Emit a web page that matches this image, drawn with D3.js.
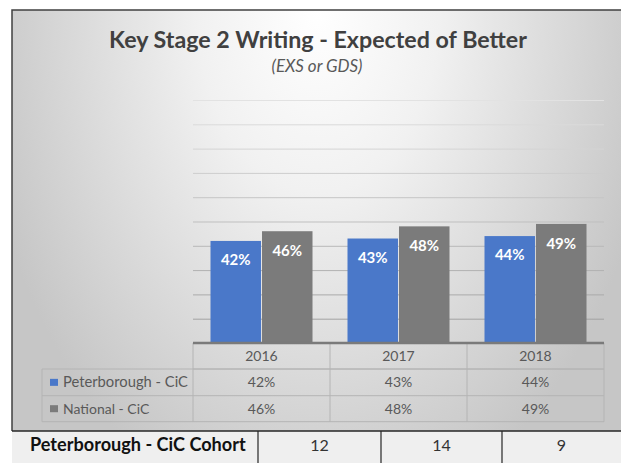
<!DOCTYPE html>
<html>
<head>
<meta charset="utf-8">
<script src="https://cdn.jsdelivr.net/npm/d3@7"></script>
<style>
  body { margin: 0; background: #fff; }
  text { font-family: Lato, "Open Sans", sans-serif; }
</style>
</head>
<body>
<div id="chart"></div>
<script>
// data
const years = ["2016", "2017", "2018"];
const seriesNames = ["Peterborough - CiC", "National - CiC"];
const peterborough = [0.42, 0.43, 0.44];
const national = [0.46, 0.48, 0.49];
const cohortLabel = "Peterborough - CiC Cohort";
const cohort = [12, 14, 9];
const yTicks = [0, 0.1, 0.2, 0.3, 0.4, 0.5, 0.6, 0.7, 0.8, 0.9, 1.0];

const colors = ["#4a78c9", "#7b7b7b"];
const W = 621, H = 463;

const svg = d3.select("#chart").append("svg")
    .attr("width", W)
    .attr("height", H);

// background gradient of the chart frame
const defs = svg.append("defs");
const grad = defs.append("radialGradient")
    .attr("id", "bg")
    .attr("gradientUnits", "userSpaceOnUse")
    .attr("cx", 0).attr("cy", 0).attr("r", 1)
    .attr("gradientTransform", "translate(318,10) scale(345,520)");
grad.append("stop").attr("offset", 0).attr("stop-color", "#ffffff");
grad.append("stop").attr("offset", 0.35).attr("stop-color", "#f1f1f1");
grad.append("stop").attr("offset", 1).attr("stop-color", "#c6c6c6");

const frame = {left: 12, top: 10, right: W, bottom: 431};
svg.append("rect")
    .attr("x", frame.left).attr("y", frame.top)
    .attr("width", frame.right - frame.left)
    .attr("height", frame.bottom - frame.top)
    .attr("fill", "url(#bg)");

// frame border: left and top only
svg.append("path")
    .attr("d", `M${frame.left},${frame.bottom}V${frame.top}H${frame.right}`)
    .attr("fill", "none")
    .attr("stroke", "#404040")
    .attr("stroke-width", 1.5);

function fit(sel, w) {
    const cur = sel.node().getComputedTextLength();
    const fs = parseFloat(sel.attr("font-size"));
    sel.attr("font-size", (fs * w / cur).toFixed(2));
}

// titles
svg.append("text")
    .attr("x", 318).attr("y", 48)
    .attr("text-anchor", "middle")
    .attr("font-size", 22)
    .attr("font-weight", "bold")
    .attr("fill", "#404040")
    .text("Key Stage 2 Writing - Expected of Better")
    .call(fit, 418);

svg.append("text")
    .attr("x", 317).attr("y", 72)
    .attr("text-anchor", "middle")
    .attr("font-size", 14)
    .attr("font-style", "italic")
    .attr("fill", "#595959")
    .text("(EXS or GDS)")
    .call(fit, 91);

// plot area
const plot = {left: 193, right: 604, top: 100, bottom: 343};

const x0 = d3.scaleBand().domain(years).range([plot.left, plot.right]);
const x1 = d3.scaleBand().domain(seriesNames)
    .range([17.5, x0.bandwidth() - 17.5])
    .paddingInner(0.02);
const y = d3.scaleLinear().domain([0, 1]).range([plot.bottom, plot.top]);

const gridColor = d3.scaleLinear().domain([0, 1]).range(["#9c9c9c", "#e2e2e2"]);

const grid = svg.append("g")
    .attr("transform", `translate(${plot.left},0)`)
    .call(d3.axisLeft(y).tickValues(yTicks).tickSize(-(plot.right - plot.left)).tickFormat(""));
grid.select(".domain").remove();
grid.selectAll(".tick line")
    .attr("stroke", d => gridColor(d))
    .attr("stroke-width", 1);
grid.selectAll(".tick").filter(d => d === 0).remove();

// bars
const rows = years.map((yr, i) => ({year: yr, values: [peterborough[i], national[i]]}));

const groups = svg.append("g").selectAll("g")
    .data(rows)
    .join("g")
    .attr("transform", d => `translate(${x0(d.year)},0)`);

groups.selectAll("rect")
    .data(d => d.values.map((v, j) => ({name: seriesNames[j], value: v, idx: j})))
    .join("rect")
    .attr("x", d => x1(d.name))
    .attr("y", d => y(d.value))
    .attr("width", x1.bandwidth())
    .attr("height", d => y(0) - y(d.value))
    .attr("fill", d => colors[d.idx]);

groups.selectAll("text")
    .data(d => d.values.map((v, j) => ({name: seriesNames[j], value: v, idx: j})))
    .join("text")
    .attr("x", d => x1(d.name) + x1.bandwidth() / 2)
    .attr("y", d => y(d.value) + (d.idx === 0 ? 24 : 25))
    .attr("text-anchor", "middle")
    .attr("font-size", 15)
    .attr("font-weight", "bold")
    .attr("fill", "#fff")
    .text(d => d3.format(".0%")(d.value));

// data table
const tbl = {left: 42, header: 343, row1: 369, row2: 395.7, bottom: 421.7};
const lineCol = "#b4b4b4";
const tg = svg.append("g");

// horizontal lines
tg.append("line").attr("x1", plot.left).attr("x2", plot.right)
    .attr("y1", tbl.row1).attr("y2", tbl.row1);
[tbl.row1, tbl.row2, tbl.bottom].forEach((yy, i) => {
    tg.append("line").attr("x1", tbl.left).attr("x2", plot.right)
        .attr("y1", yy).attr("y2", yy);
});
// vertical lines
tg.append("line").attr("x1", tbl.left).attr("x2", tbl.left)
    .attr("y1", tbl.row1).attr("y2", tbl.bottom);
years.forEach(yr => {
    tg.append("line").attr("x1", x0(yr)).attr("x2", x0(yr))
        .attr("y1", tbl.header).attr("y2", tbl.bottom);
});
tg.append("line").attr("x1", plot.right).attr("x2", plot.right)
    .attr("y1", tbl.header).attr("y2", tbl.bottom);
tg.selectAll("line").attr("stroke", lineCol).attr("stroke-width", 1);

// axis baseline
svg.append("line")
    .attr("x1", plot.left).attr("x2", plot.right)
    .attr("y1", plot.bottom).attr("y2", plot.bottom)
    .attr("stroke", "#7a7a7a")
    .attr("stroke-width", 2.5);

// header years
tg.selectAll("text.year")
    .data(years)
    .join("text")
    .attr("class", "year")
    .attr("x", d => x0(d) + x0.bandwidth() / 2)
    .attr("y", 361)
    .attr("text-anchor", "middle")
    .attr("font-size", 14)
    .attr("fill", "#595959")
    .text(d => d);

// series rows
const seriesVals = [peterborough, national];
const rowY = [tbl.row1, tbl.row2];
seriesNames.forEach((name, j) => {
    const mid = (rowY[j] + (j === 0 ? tbl.row2 : tbl.bottom)) / 2;
    tg.append("rect")
        .attr("x", 50).attr("y", mid - 3.5)
        .attr("width", 8).attr("height", 7)
        .attr("fill", colors[j]);
    const t = tg.append("text")
        .attr("x", 63).attr("y", mid + 5)
        .attr("font-size", 14)
        .attr("fill", "#595959")
        .text(name);
    if (j === 0) t.call(fit, 125);
    tg.selectAll(null)
        .data(seriesVals[j])
        .join("text")
        .attr("x", (d, i) => x0(years[i]) + x0.bandwidth() / 2)
        .attr("y", mid + 5)
        .attr("text-anchor", "middle")
        .attr("font-size", 14)
        .attr("fill", "#595959")
        .text(d => d3.format(".0%")(d));
});

// cohort row below the chart
const cohortCols = [12, 258, 381, 502, W];
const cg = svg.append("g");
cg.append("rect")
    .attr("x", frame.left).attr("y", frame.bottom)
    .attr("width", W - frame.left).attr("height", H - frame.bottom)
    .attr("fill", "#efefef");
cg.append("line")
    .attr("x1", frame.left).attr("x2", W)
    .attr("y1", frame.bottom).attr("y2", frame.bottom)
    .attr("stroke", "#262626").attr("stroke-width", 1.5);
cohortCols.slice(1, 4).forEach(cx => {
    cg.append("line")
        .attr("x1", cx).attr("x2", cx)
        .attr("y1", frame.bottom).attr("y2", H)
        .attr("stroke", "#262626").attr("stroke-width", 1.2);
});
cg.append("text")
    .attr("x", 30).attr("y", 451)
    .attr("font-size", 16)
    .attr("font-weight", "bold")
    .attr("fill", "#111")
    .text(cohortLabel)
    .call(fit, 216);
cg.selectAll("text.num")
    .data(cohort)
    .join("text")
    .attr("class", "num")
    .attr("x", (d, i) => (cohortCols[i + 1] + cohortCols[i + 2]) / 2)
    .attr("y", 451)
    .attr("text-anchor", "middle")
    .attr("font-size", 16)
    .attr("fill", "#333")
    .text(d => d);
</script>
</body>
</html>
